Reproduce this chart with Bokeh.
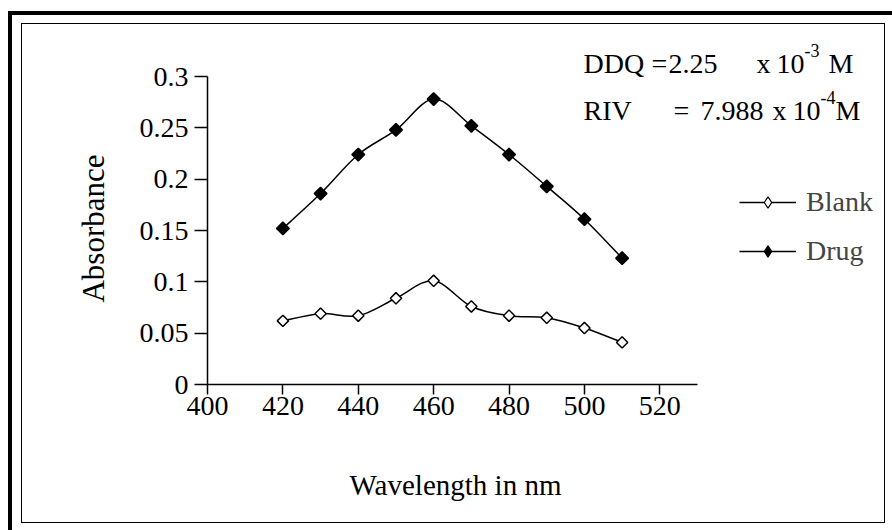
import numpy as np
from bokeh.plotting import figure
from bokeh.models import (Range1d, FixedTicker, Legend, LegendItem, Label,
                          InlineStyleSheet)
from bokeh.embed import file_html
from bokeh.resources import INLINE

# Absorbance spectra (wavelength in nm)
wavelength = [420, 430, 440, 450, 460, 470, 480, 490, 500, 510]
blank = [0.062, 0.069, 0.067, 0.084, 0.101, 0.076, 0.067, 0.065, 0.055, 0.041]
drug = [0.152, 0.186, 0.224, 0.248, 0.278, 0.252, 0.224, 0.193, 0.161, 0.123]

x_ticks = [400, 420, 440, 460, 480, 500, 520]
y_ticks = [0, 0.05, 0.1, 0.15, 0.2, 0.25, 0.3]
y_tick_labels = ["0", "0.05", "0.1", "0.15", "0.2", "0.25", "0.3"]

FONT = "Liberation Serif"
W, H = 892, 530

# canvas pixel of the axes origin (400 nm, 0 absorbance) and the scales
X0_PX, Y0_PX = 207, 384
PX_PER_NM = 490 / 130          # 400..530 nm spans 490 px
PX_PER_ABS = 308 / 0.3         # 0..0.3 spans 308 px


def smooth_segments(xs, ys):
    """Cubic Bezier control points (Catmull-Rom style) joining consecutive points."""
    x = np.asarray(xs, dtype=float)
    y = np.asarray(ys, dtype=float)
    n = len(x)
    xp = np.concatenate([[x[0]], x, [x[-1]]])
    yp = np.concatenate([[y[0]], y, [y[-1]]])
    return dict(
        x0=x[:-1], y0=y[:-1], x1=x[1:], y1=y[1:],
        cx0=x[:-1] + (xp[2:n + 1] - xp[0:n - 1]) / 6.0,
        cy0=y[:-1] + (yp[2:n + 1] - yp[0:n - 1]) / 6.0,
        cx1=x[1:] - (xp[3:n + 2] - xp[1:n]) / 6.0,
        cy1=y[1:] - (yp[3:n + 2] - yp[1:n]) / 6.0,
    )


# the data frame fills the whole canvas; the axes sit at fixed data locations
p = figure(width=W, height=H, output_backend="svg", toolbar_location=None,
           title_location=None,
           x_range=Range1d(400 - X0_PX / PX_PER_NM, 400 + (W - X0_PX) / PX_PER_NM),
           y_range=Range1d(-(H - Y0_PX) / PX_PER_ABS, Y0_PX / PX_PER_ABS),
           min_border_left=0, min_border_right=0, min_border_top=0, min_border_bottom=0)
p.outline_line_color = None
p.grid.visible = False
p.background_fill_color = "white"
p.border_fill_color = "white"

# smoothed curves
blank_curve = p.bezier(**smooth_segments(wavelength, blank), line_color="black", line_width=1.5)
drug_curve = p.bezier(**smooth_segments(wavelength, drug), line_color="black", line_width=1.5)

# small diamonds (also used as the legend symbols), covered by the point markers
blank_key = p.scatter(wavelength, blank, marker="diamond", size=6, fill_color="white",
                      line_color="black", line_width=1.2)
drug_key = p.scatter(wavelength, drug, marker="diamond", size=6, fill_color="black",
                     line_color="black", line_width=1.2)

# point markers: squares turned 45 degrees
p.scatter(wavelength, blank, marker="square", angle=45, angle_units="deg",
          size=8, fill_color="white", line_color="black", line_width=1.5)
p.scatter(wavelength, drug, marker="square", angle=45, angle_units="deg",
          size=9, fill_color="black", line_color="black", line_width=1.5)

# axes
p.xaxis.fixed_location = 0
p.yaxis.fixed_location = 400
p.xaxis.ticker = FixedTicker(ticks=x_ticks)
p.yaxis.ticker = FixedTicker(ticks=y_ticks)
p.yaxis.major_label_overrides = dict(zip(y_ticks, y_tick_labels))
p.xaxis.bounds = (400, 530)
p.yaxis.bounds = (0, 0.3)
for ax in (p.xaxis, p.yaxis):
    ax.axis_line_color = "black"
    ax.axis_line_width = 1.5
    ax.major_tick_line_color = "black"
    ax.major_tick_line_width = 1.5
    ax.minor_tick_line_color = None
    ax.major_tick_in = 0
    ax.major_label_text_font = FONT
    ax.major_label_text_font_size = "28px"
    ax.major_label_text_color = "black"
p.xaxis.major_tick_out = 10
p.yaxis.major_tick_out = 13
p.xaxis.major_label_standoff = 2
p.yaxis.major_label_standoff = 6


def note(x, y, text, size="28px", align="left", baseline="alphabetic", angle=0):
    p.add_layout(Label(x=x, y=y, x_units="canvas", y_units="canvas", text=text,
                       text_font=FONT, text_font_size=size, text_color="black",
                       text_baseline=baseline, text_align=align,
                       angle=angle, angle_units="deg"))


# axis titles
note(455, 484, "Wavelength in nm", size="29px", align="center")
note(93, 228, "Absorbance", size="31px", align="center", baseline="middle", angle=90)

# legend
legend = Legend(items=[LegendItem(label="Blank", renderers=[blank_curve, blank_key]),
                       LegendItem(label="Drug", renderers=[drug_curve, drug_key])],
                location=(739, 263), border_line_color=None, background_fill_alpha=0,
                label_text_font=FONT, label_text_font_size="28px",
                glyph_width=57, glyph_height=28, label_height=30, spacing=17,
                padding=0, margin=0, label_standoff=10)
p.add_layout(legend)

# concentrations
note(583, 63, "DDQ")
note(651, 63, "=")
note(668, 63, "2.25")
note(756, 63, "x")
note(776, 63, "10")
note(804, 50, "-3", "18px")
note(828, 63, "M")

note(583, 110, "RIV")
note(673, 110, "=")
note(700, 110, "7.988")
note(772, 110, "x")
note(792, 110, "10")
note(820, 97, "-4", "18px")
note(835, 110, "M")

# double border drawn round the whole figure
p.stylesheets = [InlineStyleSheet(css="""
:host { position: relative; }
:host::before {
  content: ""; position: absolute; left: 21px; top: 23px; width: 862px; height: 498px;
  border: 1.5px solid #000; pointer-events: none; z-index: 5;
}
:host::after {
  content: ""; position: absolute; left: 8px; top: 11px; right: 0; bottom: 0;
  border-left: 4px solid #000; border-top: 4px solid #000; pointer-events: none; z-index: 5;
}
""")]

open("out.html", "w").write(file_html(p, INLINE))
